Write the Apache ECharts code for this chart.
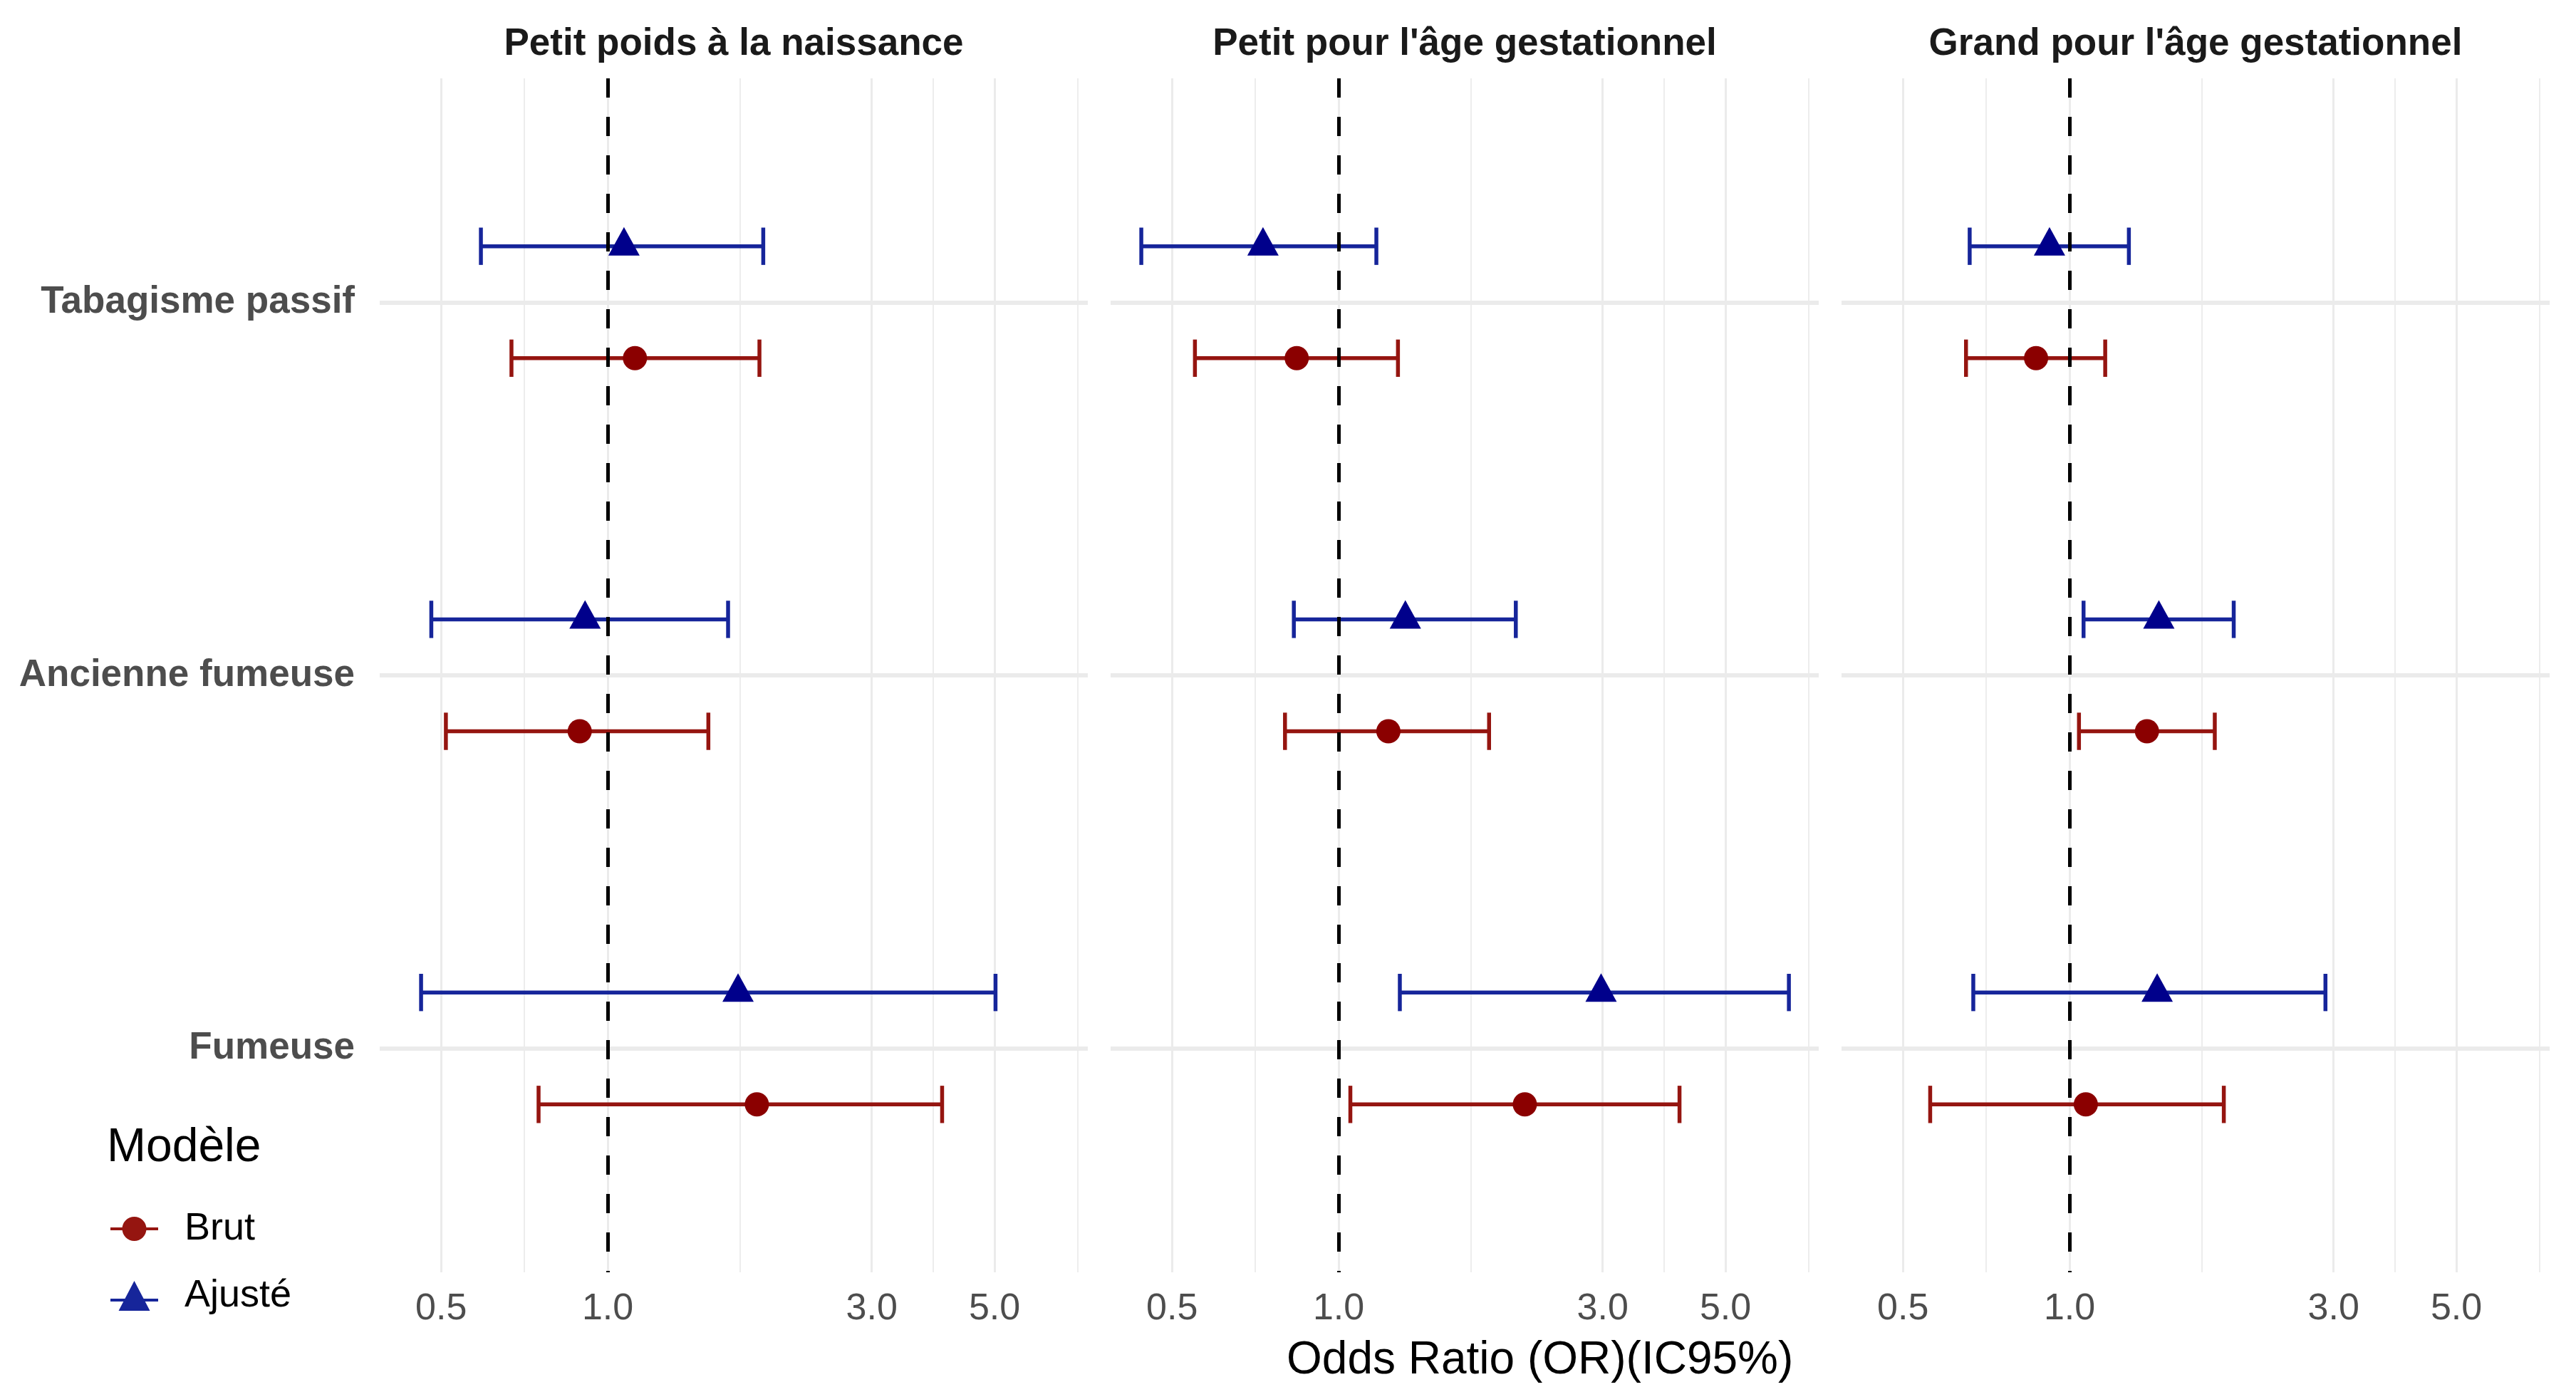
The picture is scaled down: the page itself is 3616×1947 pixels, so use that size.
<!DOCTYPE html>
<html>
<head>
<meta charset="utf-8">
<title>Odds ratios par issue</title>
<script src="https://cdn.jsdelivr.net/npm/echarts@6/dist/echarts.min.js"></script>
<style>
  html, body { margin: 0; padding: 0; background: #ffffff; }
  #chart { width: 3616px; height: 1947px; }
</style>
</head>
<body>
<div id="chart"></div>
<script>
// issues (une facette chacune) et expositions (axe vertical, de haut en bas)
const outcomes = ['Petit poids à la naissance', "Petit pour l'âge gestationnel", "Grand pour l'âge gestationnel"];
const expositions = ['Tabagisme passif', 'Ancienne fumeuse', 'Fumeuse'];

// OR et IC95% : une ligne par issue, dans l'ordre des expositions
const brutOR   = [[1.12, 0.89, 1.86], [0.84, 1.23, 2.17], [0.87, 1.38, 1.07]];
const brutLow  = [[0.67, 0.51, 0.75], [0.55, 0.80, 1.05], [0.65, 1.04, 0.56]];
const brutHigh = [[1.88, 1.52, 4.02], [1.28, 1.87, 4.13], [1.16, 1.83, 1.90]];

const ajusteOR   = [[1.07, 0.91, 1.72], [0.73, 1.32, 2.98], [0.92, 1.45, 1.44]];
const ajusteLow  = [[0.59, 0.48, 0.46], [0.44, 0.83, 1.29], [0.66, 1.06, 0.67]];
const ajusteHigh = [[1.91, 1.65, 5.02], [1.17, 2.09, 6.51], [1.28, 1.98, 2.90]];

// graduations de l'axe des OR (échelle log)
const majorBreaks = [0.5, 1, 3, 5];
const minorBreaks = [0.707, 1.732, 3.873, 7.071];

const FONT = "'Liberation Sans', Arial, Helvetica, sans-serif";
const RED = '#8B0000', BLUE = '#00008B';
const RED_LINE = '#951510', BLUE_LINE = '#16259a';
const GRID = '#ebebeb';
const X_MIN = -0.412, X_MAX = 0.8675;   // limites en log10
const DODGE = 0.15, CAP = 0.05;
const PANEL_LEFT = 533, PANEL_STEP = 1026, PANEL_W = 994;
const PANEL_TOP = 110, PANEL_H = 1676;

const lg = Math.log10;

// barre d'erreur horizontale avec embouts
function renderErrorBar(params, api) {
  const y = api.value(2);
  const lo = api.coord([api.value(0), y]);
  const hi = api.coord([api.value(1), y]);
  const cap = api.size([0, CAP])[1];
  const style = { stroke: api.visual('color'), lineWidth: 5.5 };
  return {
    type: 'group',
    children: [
      { type: 'line', shape: { x1: lo[0], y1: lo[1], x2: hi[0], y2: hi[1] }, style: style },
      { type: 'line', shape: { x1: lo[0], y1: lo[1] - cap, x2: lo[0], y2: lo[1] + cap }, style: style },
      { type: 'line', shape: { x1: hi[0], y1: hi[1] - cap, x2: hi[0], y2: hi[1] + cap }, style: style }
    ]
  };
}

const grids = [], xAxes = [], yAxes = [], series = [], texts = [];

outcomes.forEach(function (name, i) {
  const left = PANEL_LEFT + i * PANEL_STEP;
  grids.push({ left: left, top: PANEL_TOP, width: PANEL_W, height: PANEL_H });

  // axe principal : étiquettes + grandes lignes
  xAxes.push({
    gridIndex: i, type: 'value', min: X_MIN, max: X_MAX,
    axisLine: { show: false },
    axisTick: { show: false, customValues: majorBreaks.map(lg) },
    axisLabel: {
      customValues: majorBreaks.map(lg),
      formatter: function (v) { return Math.pow(10, v).toFixed(1); },
      fontSize: 52, color: '#4d4d4d', fontFamily: FONT, margin: 26
    },
    splitLine: { show: true, lineStyle: { color: GRID, width: 3 } }
  });
  // axe secondaire : lignes mineures
  xAxes.push({
    gridIndex: i, type: 'value', min: X_MIN, max: X_MAX,
    axisLine: { show: false },
    axisTick: { show: false, customValues: minorBreaks.map(lg) },
    axisLabel: { show: false },
    splitLine: { show: true, lineStyle: { color: GRID, width: 1.8 } }
  });

  yAxes.push({
    gridIndex: i, type: 'value', inverse: true, min: -0.6, max: 2.6,
    axisLine: { show: false },
    axisTick: { show: false, customValues: [0, 1, 2] },
    axisLabel: {
      show: i === 0,
      customValues: [0, 1, 2],
      formatter: function (v) { return expositions[Math.round(v)]; },
      fontSize: 53, fontWeight: 'bold', color: '#4d4d4d', fontFamily: FONT, margin: 35,
      padding: [12, 0, 0, 0]
    },
    splitLine: { show: true, lineStyle: { color: GRID, width: 6 } }
  });

  const xi = 2 * i;
  const models = [
    { name: 'Brut', or: brutOR[i], low: brutLow[i], high: brutHigh[i], shift: DODGE,
      color: RED, line: RED_LINE, symbol: 'circle', size: 34, offset: [0, 0] },
    { name: 'Ajusté', or: ajusteOR[i], low: ajusteLow[i], high: ajusteHigh[i], shift: -DODGE,
      color: BLUE, line: BLUE_LINE, symbol: 'triangle', size: [44, 40], offset: [0, -7] }
  ];

  models.forEach(function (m) {
    series.push({
      name: m.name, type: 'custom', xAxisIndex: xi, yAxisIndex: i,
      renderItem: renderErrorBar,
      itemStyle: { color: m.line },
      encode: { x: [0, 1], y: 2 },
      data: expositions.map(function (e, j) { return [lg(m.low[j]), lg(m.high[j]), j + m.shift]; }),
      z: 2, silent: true
    });
    series.push({
      name: m.name, type: 'scatter', xAxisIndex: xi, yAxisIndex: i,
      symbol: m.symbol, symbolSize: m.size, symbolOffset: m.offset,
      itemStyle: { color: m.color, opacity: 1 },
      data: expositions.map(function (e, j) { return [lg(m.or[j]), j + m.shift]; }),
      z: 3, silent: true
    });
  });

  // ligne de référence OR = 1
  series.push({
    type: 'line', xAxisIndex: xi, yAxisIndex: i, data: [], z: 5, silent: true,
    markLine: {
      silent: true, symbol: 'none', label: { show: false },
      lineStyle: { color: '#000000', width: 5, type: [27, 27] },
      data: [{ xAxis: 0 }]
    }
  });

  texts.push({
    type: 'text',
    x: left + PANEL_W / 2, y: 62,
    style: {
      text: name, fill: '#1a1a1a',
      font: 'bold 53px ' + FONT,
      align: 'center', verticalAlign: 'middle',
      textAlign: 'center', textVerticalAlign: 'middle'
    }
  });
});

texts.push({
  type: 'text', x: 1806, y: 1910,
  style: {
    text: 'Odds Ratio (OR)(IC95%)', fill: '#000000', font: '64px ' + FONT,
    align: 'left', verticalAlign: 'middle', textAlign: 'left', textVerticalAlign: 'middle'
  }
});
texts.push({
  type: 'text', x: 150, y: 1612,
  style: {
    text: 'Modèle', fill: '#000000', font: '66px ' + FONT,
    align: 'left', verticalAlign: 'middle', textAlign: 'left', textVerticalAlign: 'middle'
  }
});

// icônes de légende : trait + symbole
const brutIcon = 'path://M0,15 L67,15 L67,19 L0,19 Z M16.5,17 A17,17 0 1 1 50.5,17 A17,17 0 1 1 16.5,17 Z';
const ajusteIcon = 'path://M0,25 L67,25 L67,29 L0,29 Z M11.5,42 L33.5,0 L55.5,42 Z';

const chart = echarts.init(document.getElementById('chart'));
chart.setOption({
  backgroundColor: '#ffffff',
  animation: false,
  textStyle: { fontFamily: FONT },
  grid: grids,
  xAxis: xAxes,
  yAxis: yAxes,
  legend: {
    data: [{ name: 'Brut', icon: brutIcon }, { name: 'Ajusté', icon: ajusteIcon }],
    orient: 'vertical', left: 155, top: 1698, padding: 0,
    itemWidth: 67, itemHeight: 42, itemGap: 40,
    selectedMode: false,
    textStyle: { fontSize: 54, color: '#000000', fontFamily: FONT, padding: [0, 0, 0, 32] }
  },
  graphic: texts,
  series: series
});
</script>
</body>
</html>
